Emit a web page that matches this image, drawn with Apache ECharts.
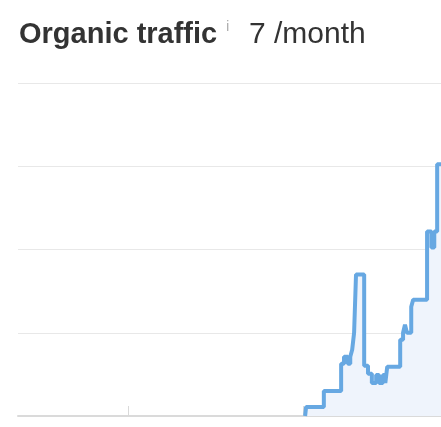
<!DOCTYPE html>
<html>
<head>
<meta charset="utf-8">
<script src="https://cdn.jsdelivr.net/npm/echarts@6/dist/echarts.min.js"></script>
<style>
html,body{margin:0;padding:0;background:#fff;}
#chart{width:441px;height:427px;}
</style>
</head>
<body>
<div id="chart"></div>
<script>
// Data (arbitrary units, gridline step 2.5)
const dates = [
  '2023-01-05','2023-01-07','2023-02-13','2023-03-21','2023-03-27','2023-04-04',
  '2023-04-09','2023-04-13','2023-04-17','2023-04-21','2023-05-08','2023-05-16',
  '2023-05-24','2023-06-02','2023-06-08','2023-06-16','2023-06-21','2023-06-25',
  '2023-07-22','2023-07-28','2023-08-01','2023-08-05','2023-08-14','2023-08-18',
  '2023-09-16','2023-09-25','2023-10-01','2023-10-07','2023-10-15'
];
const traffic = [
  0, 0.27, 0.75, 1.57, 1.78, 1.57,
  1.78, 1.99, 2.5, 4.25, 1.51, 1.27,
  0.99, 1.23, 0.99, 1.23, 0.99, 1.48,
  2.29, 2.5, 2.74, 2.5, 3.28, 3.49,
  5.54, 5.06, 5.54, 7.56, 7.56
];
const tickDates = ['2022-01-01', '2023-01-01'];
const titleMain = 'Organic traffic';
const titleInfo = 'i';
const titleValue = '7 /month';

function toTs(s){ const p = s.split('-').map(Number); return new Date(p[0], p[1]-1, p[2]).getTime(); }

const chart = echarts.init(document.getElementById('chart'));
chart.setOption({
  animation: false,
  graphic: [
    { type: 'text', left: 19, top: 20, style: { text: titleMain, font: 'bold 29px "Liberation Sans", Arial, sans-serif', fill: '#333333' } },
    { type: 'text', left: 226, top: 19, style: { text: titleInfo, font: '15px "Liberation Sans", Arial, sans-serif', fill: '#b0b0b0' } },
    { type: 'text', left: 249, top: 20, style: { text: titleValue, font: '30px "Liberation Sans", Arial, sans-serif', fill: '#333333' } }
  ],
  grid: { left: 18, right: 0, top: 83, bottom: 11, containLabel: false },
  xAxis: {
    type: 'time',
    min: toTs('2021-05-17'),
    max: toTs('2023-10-15'),
    axisLine: { show: true, lineStyle: { color: '#dadada', width: 2 } },
    axisTick: { show: true, inside: true, length: 10, customValues: tickDates.map(toTs), lineStyle: { color: '#d9d9d9', width: 1 } },
    axisLabel: { show: false },
    splitLine: { show: false }
  },
  yAxis: {
    type: 'value',
    min: 0, max: 10, interval: 2.5,
    axisLine: { show: false },
    axisTick: { show: false },
    axisLabel: { show: false },
    splitLine: { show: true, lineStyle: { color: '#e8e8e8', width: 1 } }
  },
  series: [{
    type: 'line',
    step: 'end',
    symbol: 'none',
    data: dates.map((d, i) => [toTs(d), traffic[i]]),
    lineStyle: { color: '#67a8e2', width: 4 },
    areaStyle: { color: '#eff4fc', opacity: 1 },
    clip: false
  }]
});
</script>
</body>
</html>
